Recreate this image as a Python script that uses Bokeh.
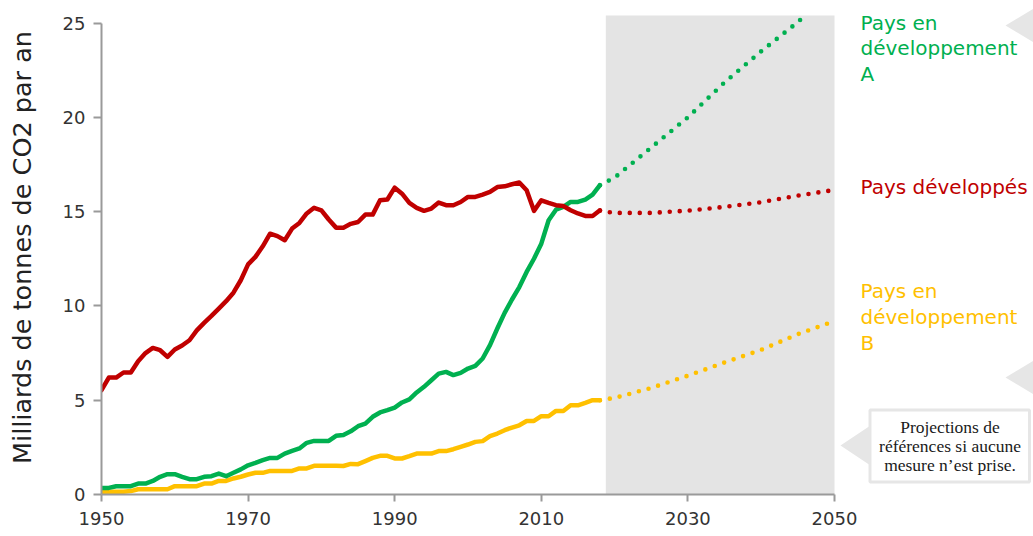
from bokeh.plotting import figure
from bokeh.models import FixedTicker, Label, Range1d
from bokeh.embed import file_html
from bokeh.resources import INLINE

# ---------------- data ----------------
hist_years = list(range(1950, 2019))
developed = [
    5.53, 6.2, 6.2, 6.47, 6.47, 7.07, 7.5, 7.77, 7.65, 7.3,
    7.69, 7.9, 8.18, 8.7, 9.1, 9.47, 9.86, 10.25, 10.7, 11.36,
    12.2, 12.6, 13.16, 13.83, 13.7, 13.48, 14.1, 14.4, 14.9, 15.2,
    15.07, 14.58, 14.15, 14.15, 14.35, 14.45, 14.84, 14.84, 15.6, 15.64,
    16.27, 15.95, 15.46, 15.2, 15.04, 15.16, 15.48, 15.34, 15.34, 15.51,
    15.78, 15.78, 15.9, 16.04, 16.3, 16.34, 16.45, 16.54, 16.13, 15.04,
    15.6, 15.46, 15.34, 15.3, 15.07, 14.9, 14.77, 14.77, 15.07,
]
developing_a = [
    0.35, 0.35, 0.44, 0.44, 0.44, 0.58, 0.58, 0.72, 0.94, 1.08,
    1.08, 0.94, 0.81, 0.81, 0.94, 0.97, 1.11, 0.97, 1.15, 1.33,
    1.55, 1.68, 1.82, 1.94, 1.94, 2.17, 2.31, 2.44, 2.74, 2.84,
    2.84, 2.84, 3.11, 3.16, 3.35, 3.62, 3.76, 4.12, 4.35, 4.47,
    4.61, 4.88, 5.04, 5.41, 5.71, 6.06, 6.41, 6.5, 6.33, 6.45,
    6.68, 6.82, 7.21, 7.92, 8.8, 9.63, 10.34, 11.0, 11.8, 12.5,
    13.3, 14.54, 15.1, 15.25, 15.51, 15.51, 15.64, 15.9, 16.4,
]
developing_b = [
    0.14, 0.14, 0.14, 0.14, 0.18, 0.28, 0.28, 0.28, 0.28, 0.28,
    0.44, 0.44, 0.44, 0.44, 0.58, 0.58, 0.72, 0.72, 0.85, 0.94,
    1.06, 1.15, 1.15, 1.25, 1.25, 1.25, 1.25, 1.38, 1.38, 1.52,
    1.52, 1.52, 1.52, 1.51, 1.62, 1.61, 1.77, 1.94, 2.05, 2.05,
    1.91, 1.91, 2.03, 2.17, 2.17, 2.17, 2.3, 2.3, 2.4, 2.53,
    2.65, 2.79, 2.83, 3.09, 3.23, 3.41, 3.55, 3.67, 3.9, 3.9,
    4.15, 4.15, 4.43, 4.43, 4.73, 4.73, 4.86, 5.0, 5.0,
]

proj_years = [2018, 2020, 2025, 2030, 2035, 2040, 2045, 2050]
developed_proj = [15.05, 14.93, 14.93, 15.05, 15.25, 15.5, 15.85, 16.15]
developing_b_proj = [5.0, 5.12, 5.65, 6.3, 7.0, 7.67, 8.5, 9.2]
proj_years_a = [2018, 2020, 2025, 2030, 2035, 2040, 2045, 2046]
developing_a_proj = [16.4, 16.8, 18.4, 20.0, 21.85, 23.5, 25.05, 25.4]

x_ticks = [1950, 1970, 1990, 2010, 2030, 2050]
y_ticks = [0, 5, 10, 15, 20, 25]

y_label = "Milliards de tonnes de CO2 par an"
label_a = ["Pays en", "développement", "A"]
label_dev = ["Pays développés"]
label_b = ["Pays en", "développement", "B"]
note_lines = ["Projections de", "références si aucune", "mesure n’est prise."]

# ---------------- layout ----------------
RED = "#C00000"
GREEN = "#00B050"
YELLOW = "#FFC000"
BAND = "#E4E4E4"
DECO = "#E6E6E6"
AXIS = "#9A9A9A"
SANS = "DejaVu Sans"
SERIF = "Liberation Serif"

W, H = 1033, 536
FRAME_LEFT = 101
FRAME_BOTTOM = 42
PX_PER_YEAR = 7.33
PX_PER_UNIT = 18.86
X0 = 1950
x_end = X0 + (W - FRAME_LEFT) / PX_PER_YEAR
y_end = (H - FRAME_BOTTOM) / PX_PER_UNIT
PROJ_START = 2018.8
PROJ_END = 2050
BAND_TOP = 25.4


def dx(px):
    """picture x pixel -> data x"""
    return X0 + (px - FRAME_LEFT) / PX_PER_YEAR


def dy(py):
    """picture y pixel -> data y"""
    return (H - FRAME_BOTTOM - py) / PX_PER_UNIT


p = figure(
    width=W, height=H,
    x_range=Range1d(X0, x_end), y_range=Range1d(0, y_end),
    output_backend="svg", toolbar_location=None,
    min_border_left=FRAME_LEFT, min_border_right=0,
    min_border_top=0, min_border_bottom=FRAME_BOTTOM,
)
p.outline_line_color = None
p.grid.visible = False
p.background_fill_color = "white"
p.border_fill_color = "white"

# axes
p.xaxis.ticker = FixedTicker(ticks=x_ticks)
p.yaxis.ticker = FixedTicker(ticks=y_ticks)
p.xaxis.bounds = (1950, 2050)
p.yaxis.bounds = (0, 25)
for ax in (p.xaxis, p.yaxis):
    ax.axis_line_color = AXIS
    ax.axis_line_width = 2
    ax.major_tick_line_color = AXIS
    ax.major_tick_line_width = 2
    ax.major_tick_in = 0
    ax.minor_tick_line_color = None
    ax.major_label_text_font = SANS
    ax.major_label_text_font_size = "18px"
    ax.major_label_text_color = "#333333"
p.xaxis.major_tick_out = 7
p.xaxis.major_label_standoff = 10
p.yaxis.major_tick_out = 8
p.yaxis.major_label_standoff = 8
p.yaxis.axis_label = y_label
p.yaxis.axis_label_text_font = SANS
p.yaxis.axis_label_text_font_size = "25.5px"
p.yaxis.axis_label_text_font_style = "normal"
p.yaxis.axis_label_text_color = "#222222"
p.yaxis.axis_label_standoff = 23

# projection band
p.quad(left=PROJ_START, right=PROJ_END, bottom=0, top=BAND_TOP,
       fill_color=BAND, line_color=None)

# decorative grey arrows
p.patch([dx(1005), dx(1040), dx(1040)], [dy(25), dy(4), dy(46)],
        fill_color=DECO, line_color=None)
p.patch([dx(1005), dx(1040), dx(1040)], [dy(377), dy(356), dy(398)],
        fill_color=DECO, line_color=None)
p.patch([dx(840), dx(870), dx(870)], [dy(445), dy(425), dy(465)],
        fill_color=DECO, line_color=None)

# note box
p.quad(left=dx(869.5), right=dx(1029), top=dy(409.5), bottom=dy(481.5),
       fill_color="white", line_color=DECO, line_width=3)

# historical lines
for ys, col in ((developing_b, YELLOW), (developing_a, GREEN), (developed, RED)):
    p.line(hist_years, ys, line_color=col, line_width=4.5,
           line_join="round", line_cap="round")

# projections (dotted)
for xs, ys, col in ((proj_years, developing_b_proj, YELLOW),
                    (proj_years_a, developing_a_proj, GREEN),
                    (proj_years, developed_proj, RED)):
    p.line(xs, ys, line_color=col, line_width=4.6, line_dash="0 10",
           line_cap="round", line_join="round")


# right-hand series labels
def add_lines(lines, px, baselines, color):
    for txt, b in zip(lines, baselines):
        p.add_layout(Label(x=dx(px), y=dy(b), text=txt, text_font=SANS,
                           text_font_size="20px", text_color=color,
                           text_baseline="alphabetic", text_align="left"))


add_lines(label_a, 860, [22, 47.5, 73], GREEN)
add_lines(label_dev, 860, [186.5], RED)
add_lines(label_b, 860, [290, 316, 342], YELLOW)

for txt, b in zip(note_lines, [426.5, 445.5, 464.5]):
    p.add_layout(Label(x=dx(949.5), y=dy(b), text=txt, text_font=SERIF,
                       text_font_size="17.5px", text_color="#1A1A1A",
                       text_baseline="alphabetic", text_align="center"))

open("out.html", "w").write(file_html(p, INLINE))
